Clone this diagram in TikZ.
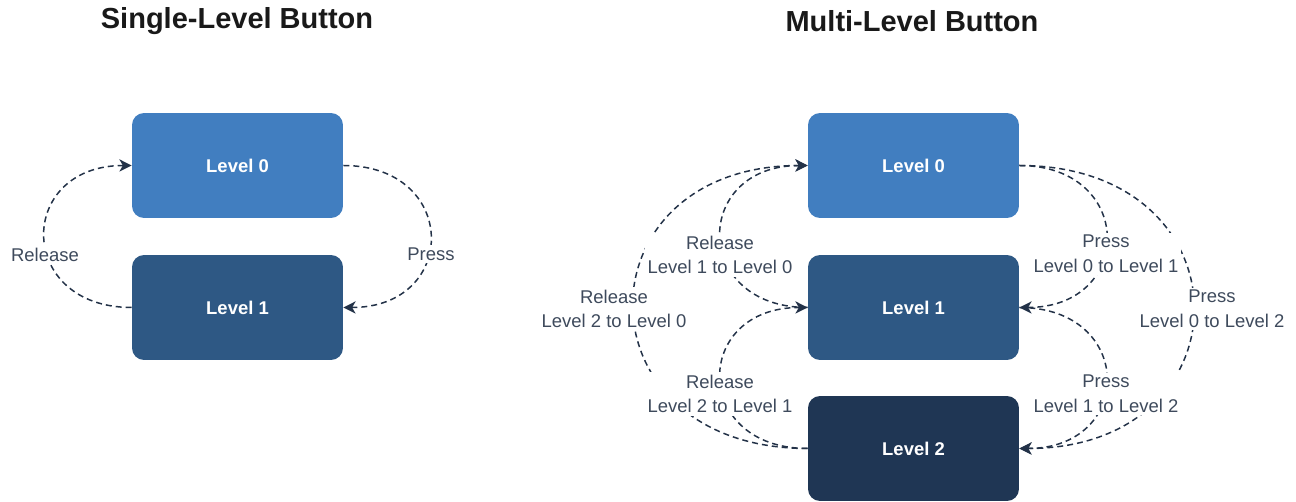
\documentclass[tikz,border=0pt]{standalone}
\usepackage{fontspec}
\setmainfont{Liberation Sans}
\usetikzlibrary{arrows.meta}

\definecolor{lvlA}{HTML}{417EC0}
\definecolor{lvlB}{HTML}{2E5884}
\definecolor{lvlC}{HTML}{1F3654}
\definecolor{wire}{HTML}{233248}
\definecolor{note}{HTML}{3E4A5C}

\tikzset{
  levelbox/.style={rectangle, rounded corners=0.24cm, minimum width=4.22cm,
    minimum height=2.1cm, text=white, font=\fontsize{10.5}{13}\selectfont\bfseries,
    inner sep=0pt},
  conn/.style={draw=wire, line width=0.85pt, dash pattern=on 3.4pt off 2.3pt,
    -{Stealth[length=7pt,width=7pt,inset=2pt]}},
  tag/.style={fill=white, text=note, align=center, inner sep=1.5pt,
    font=\fontsize{10.5}{14}\selectfont},
  heading/.style={font=\fontsize{16.5}{20}\selectfont\bfseries, text=black!90}
}

\begin{document}
\begin{tikzpicture}[x=0.02cm, y=-0.02cm]
  \useasboundingbox (0,0) rectangle (1296,502);

  % titles
  \node[heading] (t1) at (237,21) {Single-Level Button};
  \node[heading] (t2) at (912,21) {Multi-Level Button};

  % single-level button
  \node[levelbox, fill=lvlA] (s0) at (237.5,165.5) {Level 0};
  \node[levelbox, fill=lvlB] (s1) at (237.5,307.5) {Level 1};

  \draw[conn] (s1.west) .. controls +(-116,0) and +(-116,0) .. (s0.west);
  \draw[conn] (s0.east) .. controls +(116,0) and +(116,0) .. (s1.east);

  \node[tag] (sr) at (45,255) {Release};
  \node[tag] (sp) at (431,254) {Press};

  % multi-level button
  \node[levelbox, fill=lvlA] (m0) at (913.5,165.5) {Level 0};
  \node[levelbox, fill=lvlB] (m1) at (913.5,307.5) {Level 1};
  \node[levelbox, fill=lvlC] (m2) at (913.5,448.5) {Level 2};

  % presses, on the right
  \draw[conn] (m0.east) .. controls +(116,0) and +(116,0) .. (m1.east);
  \draw[conn] (m0.east) .. controls +(232,0) and +(232,0) .. (m2.east);
  \draw[conn] (m1.east) .. controls +(116,0) and +(116,0) .. (m2.east);

  % releases, on the left
  \draw[conn] (m1.west) .. controls +(-116,0) and +(-116,0) .. (m0.west);
  \draw[conn] (m2.west) .. controls +(-232,0) and +(-232,0) .. (m0.west);
  \draw[conn] (m2.west) .. controls +(-116,0) and +(-116,0) .. (m1.west);

  \node[tag] (p01) at (1106,254) {Press\\Level 0 to Level 1};
  \node[tag] (p02) at (1212,309) {Press\\Level 0 to Level 2};
  \node[tag] (p12) at (1106,394) {Press\\Level 1 to Level 2};

  \node[tag] (r10) at (720,255) {Release\\Level 1 to Level 0};
  \node[tag] (r20) at (614,309) {Release\\Level 2 to Level 0};
  \node[tag] (r21) at (720,394) {Release\\Level 2 to Level 1};
\end{tikzpicture}
\end{document}
